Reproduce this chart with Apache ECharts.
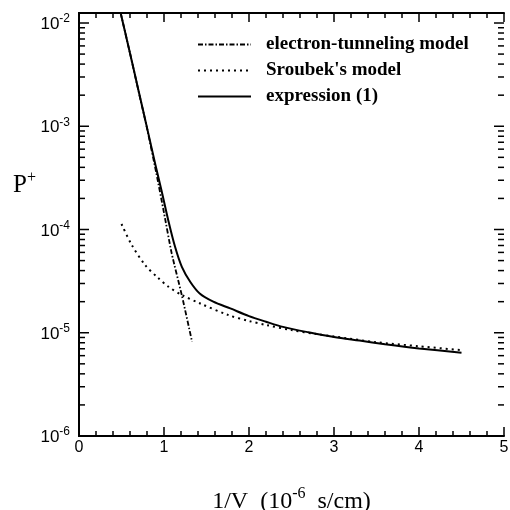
<!DOCTYPE html>
<html>
<head>
<meta charset="utf-8">
<script src="https://cdn.jsdelivr.net/npm/echarts@6/dist/echarts.min.js"></script>
<style>html,body{margin:0;padding:0;background:#fff}#c{width:510px;height:510px}</style>
</head>
<body>
<div id="c"></div>
<script>
// ---- data ----
var tunnelX = [0.49, 0.60, 0.70, 0.80, 0.91, 1.00, 1.09, 1.21, 1.33];
var tunnelY = [1.25e-2, 5.1e-3, 2.2e-3, 9.6e-4, 3.5e-4, 1.45e-4, 5.9e-5, 2.3e-5, 8.2e-6];

var sroubekX = [0.50, 0.62, 0.78, 0.93, 1.05, 1.21, 1.42, 1.76, 2.00, 2.20, 2.50, 2.80, 3.00, 3.50, 4.00, 4.48];
var sroubekY = [1.13e-4, 7.1e-5, 4.5e-5, 3.4e-5, 2.8e-5, 2.32e-5, 1.93e-5, 1.48e-5, 1.30e-5, 1.19e-5, 1.06e-5, 9.7e-6, 9.2e-6, 8.1e-6, 7.4e-6, 6.8e-6];

var exprX = [0.49, 0.60, 0.70, 0.80, 0.90, 0.97, 1.05, 1.13, 1.21, 1.31, 1.42, 1.58, 1.78, 2.00, 2.20, 2.40, 2.70, 3.00, 3.30, 3.60, 4.00, 4.50];
var exprY = [1.25e-2, 5.1e-3, 2.22e-3, 9.7e-4, 4.2e-4, 2.4e-4, 1.23e-4, 6.8e-5, 4.35e-5, 3.1e-5, 2.4e-5, 2.0e-5, 1.72e-5, 1.45e-5, 1.28e-5, 1.14e-5, 1.01e-5, 9.1e-6, 8.4e-6, 7.75e-6, 7.05e-6, 6.4e-6];

var seriesNames = ['electron-tunneling model', "Sroubek's model", 'expression (1)'];
var xTickLabels = ['0', '1', '2', '3', '4', '5'];
var yDecades = [-6, -5, -4, -3, -2];
var minorMultipliers = [2, 3, 4, 5, 6, 7, 8, 9];

// ---- build ----
function pairs(xs, ys) { return xs.map(function (x, i) { return [x, ys[i]]; }); }
var yTickVals = [];
yDecades.forEach(function (e) {
  yTickVals.push([0, Math.pow(10, e), 1]);
  if (e < -2) minorMultipliers.forEach(function (m) { yTickVals.push([0, m * Math.pow(10, e), 0]); });
});

var chart = echarts.init(document.getElementById('c'));
var axisLineStyle = { color: '#000', width: 2 };
var option = {
  animation: false,
  backgroundColor: '#fff',
  grid: { left: 79, right: 6, top: 13, bottom: 74, containLabel: false, outerBoundsMode: 'none' },
  legend: {
    orient: 'vertical', left: 197, top: 35, padding: 0,
    itemWidth: 53, itemHeight: 16, itemGap: 7,
    data: seriesNames,
    itemStyle: { opacity: 0 },
    textStyle: { fontFamily: 'Liberation Serif', fontWeight: 'bold', fontSize: 19, color: '#000', padding: [0, 0, 0, 10] }
  },
  xAxis: [{
    type: 'value', min: 0, max: 5, interval: 1, position: 'bottom',
    axisLine: { show: true, lineStyle: axisLineStyle },
    axisTick: { show: true, inside: true, length: 9, lineStyle: { color: '#000', width: 1.5 } },
    minorTick: { show: true, splitNumber: 5, length: 5, lineStyle: { color: '#000', width: 1.5 } },
    splitLine: { show: false },
    axisLabel: { margin: 4, fontFamily: 'Liberation Sans', fontSize: 16, color: '#000',
      formatter: function (v) { return xTickLabels[Math.round(v)]; } },
    name: '{a|1/V  (10}{s|-6}{a|  s/cm)}', nameLocation: 'middle', nameGap: 50,
    nameTextStyle: { rich: {
      a: { fontFamily: 'Liberation Serif', fontSize: 24, color: '#000', lineHeight: 28, verticalAlign: 'bottom' },
      s: { fontFamily: 'Liberation Serif', fontSize: 16, color: '#000', lineHeight: 15, verticalAlign: 'top' }
    } }
  }, {
    type: 'value', min: 0, max: 5, interval: 1, position: 'top',
    axisLine: { show: true, lineStyle: axisLineStyle },
    axisTick: { show: true, inside: true, length: 9, lineStyle: { color: '#000', width: 1.5 } },
    minorTick: { show: true, splitNumber: 5, length: 5, lineStyle: { color: '#000', width: 1.5 } },
    splitLine: { show: false }, axisLabel: { show: false }
  }],
  yAxis: [{
    type: 'log', logBase: 10, min: 1e-6, max: 0.0125, position: 'left',
    axisLine: { show: true, lineStyle: axisLineStyle },
    axisTick: { show: false },
    splitLine: { show: false },
    axisLabel: {
      margin: 9, showMaxLabel: false,
      formatter: function (v) {
        var l = Math.log10(v), e = Math.round(l);
        if (Math.abs(l - e) > 1e-6) return '';
        return '{b|10}{s|' + e + '}';
      },
      rich: {
        b: { fontFamily: 'Liberation Sans', fontSize: 17, color: '#000', lineHeight: 20, verticalAlign: 'bottom' },
        s: { fontFamily: 'Liberation Sans', fontSize: 12, color: '#000', lineHeight: 12, verticalAlign: 'top' }
      }
    }
  }, {
    type: 'log', logBase: 10, min: 1e-6, max: 0.0125, position: 'right',
    axisLine: { show: true, lineStyle: axisLineStyle },
    axisTick: { show: false },
    splitLine: { show: false }, axisLabel: { show: false }
  }],
  graphic: [{
    type: 'text', left: 13, top: 170,
    style: {
      text: '{p|P}{s|+}',
      rich: {
        p: { fontFamily: 'Liberation Serif', fontSize: 25, fill: '#000', lineHeight: 28, verticalAlign: 'bottom' },
        s: { fontFamily: 'Liberation Serif', fontSize: 16, fill: '#000', lineHeight: 14, verticalAlign: 'top' }
      }
    }
  }],
  series: [{
    name: seriesNames[0], type: 'line', data: pairs(tunnelX, tunnelY), showSymbol: false, symbol: 'none', smooth: 0.2,
    lineStyle: { color: '#000', width: 1.8, type: [5, 2, 1.5, 2] }, itemStyle: { color: '#000' }, z: 3
  }, {
    name: seriesNames[1], type: 'line', data: pairs(sroubekX, sroubekY), showSymbol: false, symbol: 'none', smooth: 0.3,
    lineStyle: { color: '#000', width: 2, type: [2, 4] }, itemStyle: { color: '#000' }, z: 3
  }, {
    name: seriesNames[2], type: 'line', data: pairs(exprX, exprY), showSymbol: false, symbol: 'none', smooth: 0.3,
    lineStyle: { color: '#000', width: 2 }, itemStyle: { color: '#000' }, z: 4
  }, {
    type: 'custom', data: yTickVals, silent: true, z: 5, clip: false,
    renderItem: function (params, api) {
      var v = api.value(1);
      var len = api.value(2) ? 10 : 6;
      var pl = api.coord([0, v]);
      var pr = api.coord([5, v]);
      var st = { stroke: '#000', lineWidth: 1.5 };
      return { type: 'group', children: [
        { type: 'line', shape: { x1: pl[0], y1: pl[1], x2: pl[0] + len, y2: pl[1] }, style: st },
        { type: 'line', shape: { x1: pr[0], y1: pr[1], x2: pr[0] - len, y2: pr[1] }, style: st }
      ] };
    }
  }]
};
chart.setOption(option);
</script>
</body>
</html>
